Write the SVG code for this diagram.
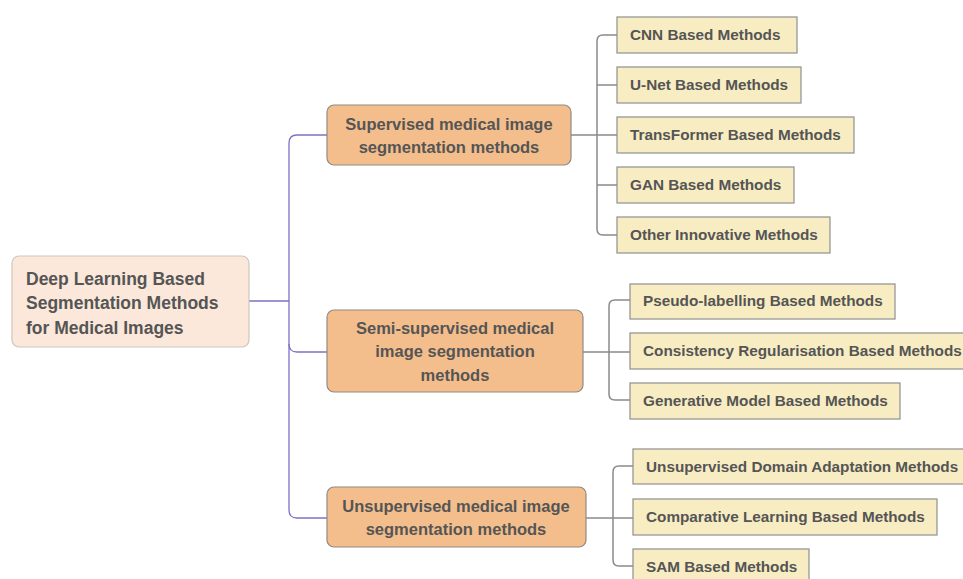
<svg xmlns="http://www.w3.org/2000/svg" width="963" height="579" viewBox="0 0 963 579">
<style>
text{font-family:"Liberation Sans",Arial,sans-serif;font-weight:bold;fill:#555;}
.root rect{fill:#fbe8da;stroke:#cdc6c0;stroke-width:1.2;}
.l1 rect{fill:#f4be8c;stroke:#8f8a85;stroke-width:1.2;}
.leaf rect{fill:#f8edc2;stroke:#8f8f8f;stroke-width:1.2;}
.rt{font-size:17.5px;}
.t1{font-size:16.5px;text-anchor:middle;}
.t2{font-size:15.3px;}
.pl{fill:none;stroke:#7d72c4;stroke-width:1.3;}
.gl{fill:none;stroke:#8a8a8a;stroke-width:1.5;}
</style>
<rect width="963" height="579" fill="#fff"/>
<g id="connectors">
<path class="pl" d="M249,301 H289"/>
<path class="pl" d="M327,135 H297 Q289,135 289,143 V510 Q289,518 297,518 H327"/>
<path class="pl" d="M289,344 Q289,352 297,352 H327"/>
<path class="gl" d="M571,135 H617 M617,85 H597 M617,185 H597"/>
<path class="gl" d="M617,35 H603 Q597,35 597,41 V229 Q597,235 603,235 H617"/>
<path class="gl" d="M583,352 H630"/>
<path class="gl" d="M630,300 H615 Q609,300 609,306 V394 Q609,400 615,400 H630"/>
<path class="gl" d="M586,518 H633"/>
<path class="gl" d="M633,466 H619 Q613,466 613,472 V560 Q613,566 619,566 H633"/>
</g>
<g id="root" class="root">
<rect x="12" y="256" width="237" height="91" rx="7"/>
<text class="rt" x="26" y="285">Deep Learning Based</text>
<text class="rt" x="26" y="309">Segmentation Methods</text>
<text class="rt" x="26" y="334">for Medical Images</text>
</g>
<g id="supervised" class="l1">
<rect x="327" y="105" width="244" height="60" rx="7"/>
<text class="t1" x="449" y="130">Supervised medical image</text>
<text class="t1" x="449" y="153">segmentation methods</text>
</g>
<g id="semi" class="l1">
<rect x="327" y="310" width="256" height="82" rx="7"/>
<text class="t1" x="455" y="334">Semi-supervised medical</text>
<text class="t1" x="455" y="357">image segmentation</text>
<text class="t1" x="455" y="381">methods</text>
</g>
<g id="unsupervised" class="l1">
<rect x="327" y="487" width="259" height="60" rx="7"/>
<text class="t1" x="456" y="512">Unsupervised medical image</text>
<text class="t1" x="456" y="535">segmentation methods</text>
</g>
<g id="cnn" class="leaf"><rect x="617" y="17" width="180" height="36"/><text class="t2" x="630" y="40">CNN Based Methods</text></g>
<g id="unet" class="leaf"><rect x="617" y="67" width="184" height="36"/><text class="t2" x="630" y="90">U-Net Based Methods</text></g>
<g id="transformer" class="leaf"><rect x="617" y="117" width="237" height="36"/><text class="t2" x="630" y="140">TransFormer Based Methods</text></g>
<g id="gan" class="leaf"><rect x="617" y="167" width="177" height="36"/><text class="t2" x="630" y="190">GAN Based Methods</text></g>
<g id="other" class="leaf"><rect x="617" y="217" width="213" height="36"/><text class="t2" x="630" y="240">Other Innovative Methods</text></g>
<g id="pseudo" class="leaf"><rect x="630" y="284" width="265" height="35"/><text class="t2" x="643" y="306">Pseudo-labelling Based Methods</text></g>
<g id="consistency" class="leaf"><rect x="630" y="333" width="340" height="36"/><text class="t2" x="643" y="356">Consistency Regularisation Based Methods</text></g>
<g id="generative" class="leaf"><rect x="630" y="383" width="270" height="36"/><text class="t2" x="643" y="406">Generative Model Based Methods</text></g>
<g id="uda" class="leaf"><rect x="633" y="449" width="340" height="35"/><text class="t2" x="646" y="472">Unsupervised Domain Adaptation Methods</text></g>
<g id="comparative" class="leaf"><rect x="633" y="499" width="304" height="36"/><text class="t2" x="646" y="522">Comparative Learning Based Methods</text></g>
<g id="sam" class="leaf"><rect x="633" y="549" width="176" height="40"/><text class="t2" x="646" y="572">SAM Based Methods</text></g>
</svg>
